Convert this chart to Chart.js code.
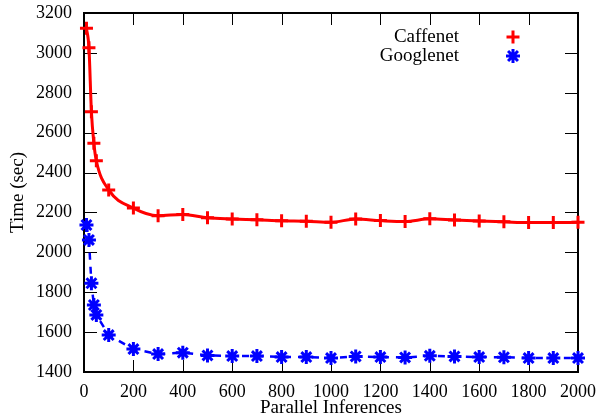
<!DOCTYPE html>
<html>
<head>
<meta charset="utf-8">
<script src="https://cdn.jsdelivr.net/npm/chart.js@4"></script>
<style>
  html, body { margin: 0; padding: 0; background: #fff; }
  #wrap { width: 598px; height: 419px; }
</style>
</head>
<body>
<div id="wrap"><canvas id="myChart" width="598" height="419"></canvas></div>
<script>
const inferences = [10, 20, 30, 40, 50, 100, 200, 300, 400, 500, 600, 700, 800, 900, 1000,
  1100, 1200, 1300, 1400, 1500, 1600, 1700, 1800, 1900, 2000];
const caffenet = [3123, 3026, 2705, 2547, 2459, 2313, 2222, 2184, 2190, 2173, 2167, 2163, 2158, 2156, 2151,
  2167, 2159, 2154, 2168, 2162, 2157, 2153, 2149, 2149, 2151];
const googlenet = [2137, 2062, 1845, 1736, 1686, 1585, 1515, 1490, 1497, 1483, 1480, 1480, 1475, 1475, 1470,
  1478, 1475, 1473, 1481, 1478, 1475, 1474, 1470, 1470, 1470];
const seriesNames = ['Caffenet', 'Googlenet'];

const serif = "'Liberation Serif', serif";
const ctx = document.getElementById('myChart').getContext('2d');

// gnuplot style frame: border plus inward ticks on all four sides
const framePlugin = {
  id: 'frame',
  beforeDatasetsDraw(chart) {
    const { ctx, chartArea: a, scales } = chart;
    ctx.save();
    ctx.strokeStyle = '#000';
    ctx.lineWidth = 1;
    ctx.beginPath();
    scales.x.ticks.forEach(t => {
      const px = Math.round(scales.x.getPixelForValue(t.value)) + 0.5;
      ctx.moveTo(px, a.bottom); ctx.lineTo(px, a.bottom - 12);
      ctx.moveTo(px, a.top); ctx.lineTo(px, a.top + 12);
    });
    scales.y.ticks.forEach(t => {
      const py = Math.round(scales.y.getPixelForValue(t.value)) + 0.5;
      ctx.moveTo(a.left, py); ctx.lineTo(a.left + 13, py);
      ctx.moveTo(a.right, py); ctx.lineTo(a.right - 13, py);
    });
    ctx.stroke();
    ctx.lineWidth = 2;
    ctx.strokeRect(a.left, a.top, a.right - a.left, a.bottom - a.top);
    ctx.restore();
  },
  afterDraw(chart) {
    // key in the top right corner
    const { ctx } = chart;
    ctx.save();
    ctx.font = '19px ' + serif;
    ctx.fillStyle = '#000';
    ctx.textAlign = 'right';
    ctx.textBaseline = 'middle';
    chart.data.datasets.forEach((ds, i) => {
      const y = 37 + i * 19;
      ctx.fillText(ds.label, 459, y);
      ctx.strokeStyle = ds.borderColor;
      ctx.lineWidth = 3;
      Chart.helpers.drawPoint(ctx, {
        pointStyle: ds.pointStyle, radius: ds.pointRadius, rotation: 0, borderWidth: 3
      }, 513, y);
    });
    ctx.restore();
  }
};

const tickFont = { family: serif, size: 18 };
const titleFont = { family: serif, size: 19 };

new Chart(ctx, {
  type: 'line',
  data: {
    datasets: [{
      label: seriesNames[0],
      data: inferences.map((x, i) => ({ x: x, y: caffenet[i] })),
      borderColor: '#ff0000',
      backgroundColor: '#ff0000',
      borderWidth: 3,
      cubicInterpolationMode: 'monotone',
      pointStyle: 'cross',
      pointRadius: 6.5,
      pointBorderWidth: 3,
      clip: false
    }, {
      label: seriesNames[1],
      data: inferences.map((x, i) => ({ x: x, y: googlenet[i] })),
      borderColor: '#0000ff',
      backgroundColor: '#0000ff',
      borderWidth: 2.5,
      borderDash: [7, 7],
      tension: 0,
      pointStyle: 'star',
      pointRadius: 7,
      pointBorderWidth: 3,
      clip: false
    }]
  },
  options: {
    responsive: false,
    animation: false,
    layout: { padding: { left: 0, right: 20, top: 13, bottom: 0 } },
    plugins: {
      legend: { display: false },
      tooltip: { enabled: false }
    },
    scales: {
      x: {
        type: 'linear',
        min: 0,
        max: 2000,
        afterFit: s => { s.height = 47; s.paddingLeft = 0; s.paddingRight = 0; },
        grid: { display: false, drawTicks: false },
        border: { display: false },
        ticks: {
          stepSize: 200,
          padding: 9,
          maxRotation: 0,
          autoSkip: false,
          color: '#000',
          font: tickFont,
          callback: v => String(v)
        },
        title: {
          display: true,
          text: 'Parallel Inferences',
          color: '#000',
          font: titleFont,
          padding: { top: 0, bottom: 0 }
        }
      },
      y: {
        min: 1400,
        max: 3200,
        afterFit: s => { s.width = 84; s.paddingTop = 0; s.paddingBottom = 0; },
        grid: { display: false, drawTicks: false },
        border: { display: false },
        ticks: {
          stepSize: 200,
          padding: 12,
          color: '#000',
          font: tickFont,
          callback: v => String(v)
        },
        title: {
          display: true,
          text: 'Time (sec)',
          color: '#000',
          font: titleFont,
          padding: { top: 7, bottom: 0 }
        }
      }
    }
  },
  plugins: [framePlugin]
});
</script>
</body>
</html>
